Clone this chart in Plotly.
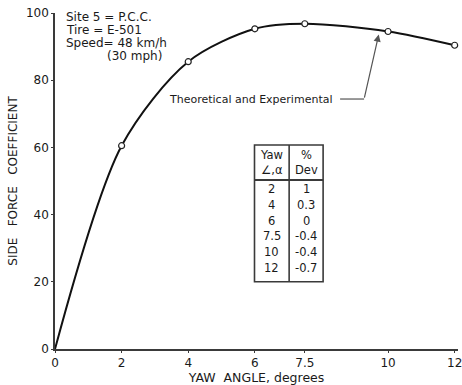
import plotly.graph_objects as go

# Side force coefficient vs yaw angle (Site 5, P.C.C.)
yaw_deg = [2, 4, 6, 7.5, 10, 12]
side_force = [60.5, 85.5, 95.3, 96.8, 94.5, 90.4]
pct_dev = ["1", "0.3", "0", "-0.4", "-0.4", "-0.7"]
yaw_labels = ["2", "4", "6", "7.5", "10", "12"]

x_ticks = [0, 2, 4, 6, 7.5, 10, 12]
x_tick_text = ["0", "2", "4", "6", "7.5", "10", "12"]
y_ticks = [0, 20, 40, 60, 80, 100]

FONT = "DejaVu Sans"
INK = "#1a1a1a"
LINE = "#3a3a3a"

fig = go.Figure()

# smooth theoretical curve passing through the origin
fig.add_trace(go.Scatter(
    x=[0] + yaw_deg, y=[0] + side_force,
    mode="lines", line=dict(color="#111111", width=2, shape="spline", smoothing=0.85),
    cliponaxis=False, hoverinfo="skip", showlegend=False,
))
# experimental points
fig.add_trace(go.Scatter(
    x=yaw_deg, y=side_force, mode="markers",
    marker=dict(symbol="circle", size=6, color="white", line=dict(color="#222222", width=1.2)),
    cliponaxis=False, showlegend=False,
))

annotations = []
shapes = []

# test conditions block
info = [("Site 5 = P.C.C.", 0.28, 98.9), ("Tire = E-501", 0.28, 95.0),
        ("Speed= 48 km/h", 0.28, 91.1), ("(30 mph)", 1.5, 87.2)]
for txt, xx, yy in info:
    annotations.append(dict(x=xx, y=yy, text=txt, showarrow=False, xanchor="left",
                            yanchor="middle", font=dict(family=FONT, size=12, color=INK)))

# curve label with leader line and arrow
annotations.append(dict(x=8.4, y=74.4, text="Theoretical and Experimental", showarrow=False,
                        xanchor="right", yanchor="middle",
                        font=dict(family=FONT, size=11, color=INK)))
shapes.append(dict(type="line", xref="x", yref="y", x0=8.56, y0=74.4, x1=9.28, y1=74.4,
                   line=dict(color="#555555", width=1.2)))
annotations.append(dict(x=9.72, y=93.6, ax=9.28, ay=74.4, axref="x", ayref="y",
                        xref="x", yref="y", text="", showarrow=True, arrowhead=2,
                        arrowsize=1.2, arrowwidth=1.2, arrowcolor="#555555"))

# deviation table
tx0, tx1, tmid = 5.99, 8.05, 7.03
ty_top, ty_head, ty_bot = 60.7, 50.3, 20.0
shapes.append(dict(type="rect", xref="x", yref="y", x0=tx0, x1=tx1, y0=ty_bot, y1=ty_top,
                   line=dict(color=LINE, width=1.6)))
shapes.append(dict(type="line", xref="x", yref="y", x0=tmid, x1=tmid, y0=ty_bot, y1=ty_top,
                   line=dict(color=LINE, width=1.6)))
shapes.append(dict(type="line", xref="x", yref="y", x0=tx0, x1=tx1, y0=ty_head, y1=ty_head,
                   line=dict(color=LINE, width=2.2)))

col_l, col_r = (tx0 + tmid) / 2, (tmid + tx1) / 2
tfont = dict(family=FONT, size=11.5, color=INK)
for txt, xx, yy in [("Yaw", col_l, 57.7), ("∠,α", col_l, 53.3), ("%", col_r, 57.7), ("Dev", col_r, 53.3)]:
    annotations.append(dict(x=xx, y=yy, text=txt, showarrow=False, font=tfont))
row_y0, row_step = 47.6, 4.7
for i, (a, d) in enumerate(zip(yaw_labels, pct_dev)):
    yy = row_y0 - i * row_step
    annotations.append(dict(x=col_l, y=yy, text=a, showarrow=False, font=tfont))
    annotations.append(dict(x=col_r, y=yy, text=d, showarrow=False, font=tfont))

fig.update_layout(
    width=462, height=385,
    margin=dict(l=55, r=0, t=13, b=36),
    paper_bgcolor="white", plot_bgcolor="white",
    font=dict(family=FONT, color=INK),
    shapes=shapes, annotations=annotations,
    xaxis=dict(range=[0, 12.1], tickvals=x_ticks, ticktext=x_tick_text,
               ticklabeloverflow="allow",
               showgrid=False, zeroline=False, showline=True, linecolor=LINE, linewidth=1.6,
               ticks="outside", ticklen=2, tickcolor=LINE, tickfont=dict(size=12, color=INK),
               title=dict(text="  YAW  ANGLE, degrees", font=dict(size=12.5, color=INK), standoff=1)),
    yaxis=dict(range=[0, 100], tickvals=y_ticks,
               showgrid=False, zeroline=False, showline=True, linecolor=LINE, linewidth=1.6,
               ticks="outside", ticklen=2, tickcolor=LINE, tickfont=dict(size=12, color=INK),
               title=dict(text="SIDE   FORCE   COEFFICIENT", font=dict(size=12, color=INK), standoff=6)),
)

fig.write_html("out.html")
